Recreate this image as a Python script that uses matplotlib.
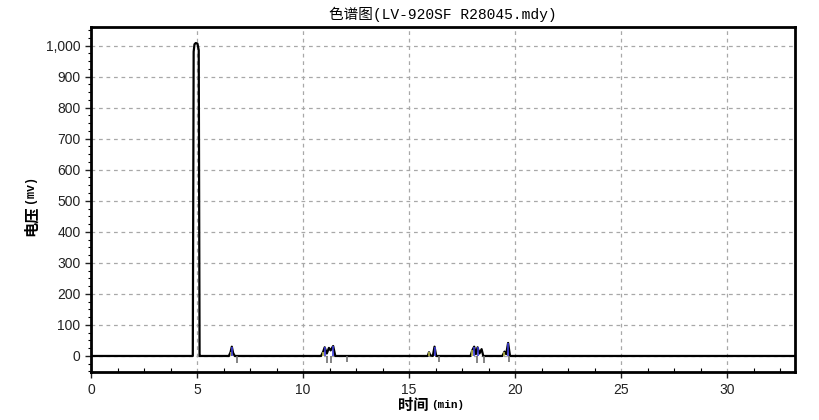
import matplotlib.pyplot as plt
from matplotlib.ticker import FuncFormatter, MultipleLocator, AutoMinorLocator

# ===========================
# DATA
# ===========================
trace_time = [0.0, 4.80, 4.84, 4.88, 4.94, 5.02, 5.08, 5.12, 5.16,
              6.50, 6.58, 6.64, 6.70, 6.78,
              10.85, 10.95, 11.02, 11.12, 11.22, 11.30, 11.42, 11.52,
              15.88, 15.94, 16.00, 16.12, 16.20, 16.28,
              17.90, 17.98, 18.07, 18.15, 18.23, 18.32, 18.42, 18.50,
              19.40, 19.50, 19.58, 19.67, 19.76, 33.2]
trace_mv = [0.0, 0.0, 980.0, 1004.0, 1008.0, 1006.0, 985.0, 0.0, 0.0,
            0.0, 12.0, 30.0, 10.0, 0.0,
            0.0, 14.0, 28.0, 8.0, 26.0, 18.0, 32.0, 0.0,
            0.0, 12.0, 2.0, 0.0, 30.0, 0.0,
            0.0, 18.0, 30.0, 6.0, 28.0, 8.0, 22.0, 0.0,
            0.0, 14.0, 6.0, 42.0, 0.0, 0.0]

# peak markers drawn by the data system
start_marks = [6.58, 10.95, 15.94, 17.98, 19.50]       # olive, above baseline
start_h = [14, 14, 12, 18, 14]
apex_marks = [6.64, 11.02, 11.42, 16.20, 18.07, 18.23, 19.67]  # blue
apex_h = [30, 28, 32, 30, 30, 28, 42]
end_marks = [6.88, 11.12, 11.30, 12.06, 16.40, 18.20, 18.55, 19.72]  # gray, below
end_h = [-22, -22, -22, -20, -20, -22, -22, -20]

TITLE = "色谱图(LV-920SF R28045.mdy)"
XLABEL = ("时间", "(min)")
YLABEL = ("电压", "(mv)")
# ===========================

FAM = ['Liberation Mono', 'Noto Sans CJK SC', 'DejaVu Sans']
CJK = ['Noto Sans CJK SC', 'DejaVu Sans']


def main():
    fig = plt.figure(figsize=(8.2, 4.2), dpi=100)
    ax = fig.add_axes([0.111, 0.114, 0.8585, 0.822])

    ax.plot(trace_time, trace_mv, color='black', linewidth=1.6, zorder=3)

    ax.vlines(start_marks, 0, start_h, color='#b8b84a', linewidth=1.2, zorder=4)
    ax.vlines(apex_marks, 0, apex_h, color='#3c3cd8', linewidth=1.2, zorder=4)
    ax.vlines(end_marks, 0, end_h, color='#707070', linewidth=1.2, zorder=4)

    ax.set_xlim(0, 33.2)
    ax.set_ylim(-52, 1060)
    ax.xaxis.set_major_locator(MultipleLocator(5))
    ax.xaxis.set_minor_locator(AutoMinorLocator(4))
    ax.yaxis.set_major_locator(MultipleLocator(100))
    ax.yaxis.set_minor_locator(AutoMinorLocator(4))
    ax.yaxis.set_major_formatter(FuncFormatter(lambda v, p: f"{int(v):,}"))

    ax.grid(True, which='major', color='#a8a8a8', linestyle=(0, (3, 3)), linewidth=0.9)
    for s in ax.spines.values():
        s.set_linewidth(2.0)

    ax.tick_params(axis='both', which='major', length=4, width=1, labelsize=10, colors='#222222')
    ax.tick_params(axis='y', which='minor', length=2.5, width=0.8)
    ax.tick_params(axis='x', which='minor', direction='in', length=3, width=0.8)
    for lbl in ax.get_xticklabels() + ax.get_yticklabels():
        lbl.set_family('Liberation Sans')

    ax.set_title(TITLE, family=FAM, fontsize=10.5, pad=6)

    # axis labels: bold CJK part, smaller monospace unit
    fig.text(0.523, 0.035, XLABEL[0], family=CJK, fontsize=11, fontweight='bold',
             ha='right', va='center')
    fig.text(0.526, 0.035, XLABEL[1], family='Liberation Mono', fontsize=8,
             fontweight='bold', ha='left', va='center')
    fig.text(0.037, 0.51, YLABEL[0], family=CJK, fontsize=11, fontweight='bold',
             rotation=90, ha='center', va='top')
    fig.text(0.037, 0.517, YLABEL[1], family='Liberation Mono', fontsize=8.5,
             fontweight='bold', rotation=90, ha='center', va='bottom')

    fig.savefig("out.png", dpi=100)


if __name__ == "__main__":
    main()
